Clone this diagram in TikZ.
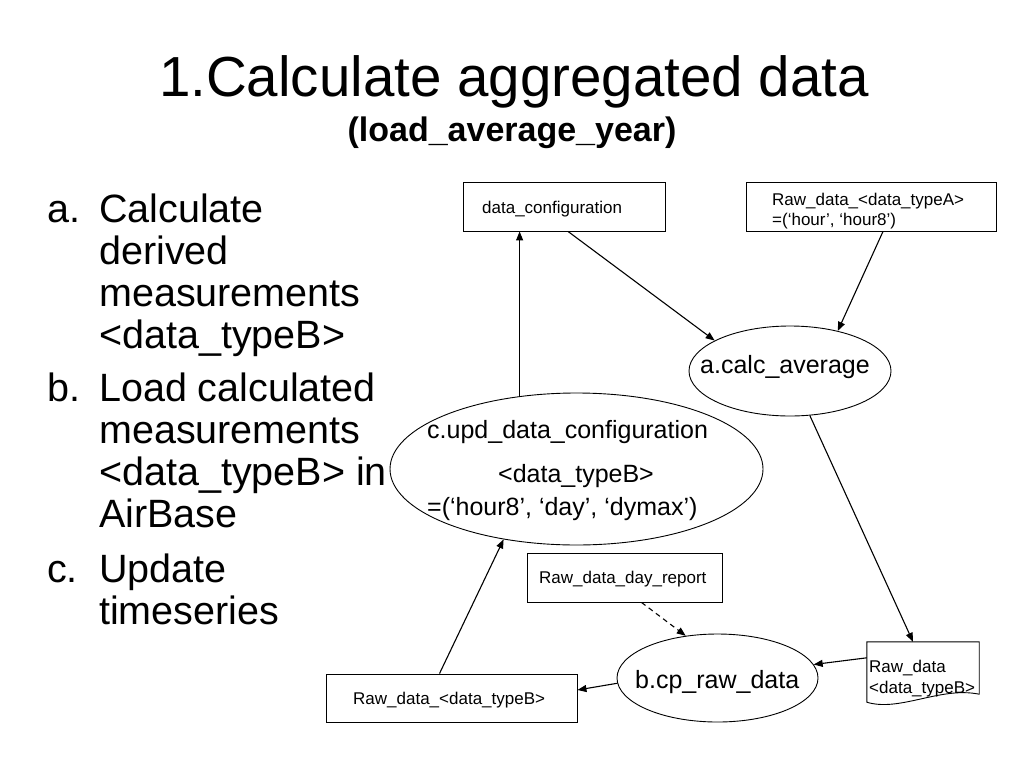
\documentclass[tikz,border=0pt]{standalone}
\usepackage{fontspec}
\setmainfont{Liberation Sans}
\usetikzlibrary{arrows.meta,shapes.geometric,calc}
\begin{document}
\begin{tikzpicture}[x=1pt,y=-1pt,
  box/.style={draw, line width=0.9pt, rectangle, inner sep=0pt},
  oval/.style={draw, line width=0.9pt, ellipse, inner sep=0pt},
  arr/.style={line width=1.1pt, -{Triangle[length=9pt,width=7pt]}},
  lt/.style={inner sep=0pt, anchor=base west, font=\fontsize{39.5}{42}\selectfont},
  big/.style={inner sep=0pt, anchor=base west, font=\fontsize{25}{28}\selectfont},
  small/.style={inner sep=0pt, anchor=base west, font=\fontsize{17}{20}\selectfont}]
\useasboundingbox (0,0) rectangle (1024,768);
\fill[white] (0,0) rectangle (1024,768);

% titles
\node[anchor=base, inner sep=0pt, font=\fontsize{56.5}{60}\selectfont] (title) at (514,96) {1.Calculate aggregated data};
\node[anchor=base, inner sep=0pt, font=\fontsize{34}{40}\selectfont\bfseries] (subtitle) at (512,141) {(load\_average\_year)};

% list
\node[lt] (ia) at (47,222) {a.};
\node[lt] (ia1) at (99,222) {Calculate};
\node[lt] (ia2) at (99,264.3) {derived};
\node[lt] (ia3) at (99,306.6) {measurements};
\node[lt] (ia4) at (99,348.9) {<data\_typeB>};
\node[lt] (ib) at (47,401) {b.};
\node[lt] (ib1) at (99,401) {Load calculated};
\node[lt] (ib2) at (99,443.3) {measurements};
\node[lt] (ib3) at (99,485.6) {<data\_typeB> in};
\node[lt] (ib4) at (99,527.9) {AirBase};
\node[lt] (ic) at (47,582) {c.};
\node[lt] (ic1) at (99,582) {Update};
\node[lt] (ic2) at (99,624.3) {timeseries};

% shapes
\node[box, minimum width=202pt, minimum height=49pt] (dconf) at (564,206.5) {};
\node[small] (dconft) at (482,213) {data\_configuration};

\node[box, minimum width=250pt, minimum height=49pt] (rawA) at (871,206.5) {};
\node[small] (rawAt1) at (772,205) {Raw\_data\_<data\_typeA>};
\node[small] (rawAt2) at (772,225) {=(‘hour’, ‘hour8’)};

\node[oval, minimum width=202pt, minimum height=90pt] (acalc) at (790,371) {};
\node[big] (acalct) at (700,373) {a.calc\_average};

\node[oval, minimum width=373pt, minimum height=152pt] (cupd) at (576.5,469) {};
\node[big] (cupdt1) at (427,438) {c.upd\_data\_configuration};
\node[anchor=base, inner sep=0pt, font=\fontsize{25}{28}\selectfont] (cupdt2) at (576,482) {<data\_typeB>};
\node[big] (cupdt3) at (427,515) {=(‘hour8’, ‘day’, ‘dymax’)};

\node[box, minimum width=195pt, minimum height=49pt] (day) at (624.5,577.5) {};
\node[small] (dayt) at (539,583) {Raw\_data\_day\_report};

\node[oval, minimum width=201pt, minimum height=88pt] (bcp) at (717.5,678) {};
\node[big] (bcpt) at (635,688) {b.cp\_raw\_data};

\node[box, minimum width=251pt, minimum height=48pt] (rawB) at (451.5,698) {};
\node[small] (rawBt) at (353,704) {Raw\_data\_<data\_typeB>};

\node[inner sep=0pt, minimum width=112pt, minimum height=52pt] (doc) at (923,668) {};
\draw[line width=0.9pt] (doc.north west) -- (doc.north east) -- (doc.south east)
  .. controls +(-39,-8) and +(33,10) .. ([yshift=-8pt]doc.south west) -- cycle;
\node[small] (doct1) at (869,672) {Raw\_data};
\node[small] (doct2) at (869,693) {<data\_typeB>};

% connectors
\draw[arr] (cupd.128) -- (cupd.128 |- dconf.south);
\draw[arr] ([xshift=4pt]dconf.south) -- (acalc.158);
\draw[arr] ([xshift=12pt]rawA.south) -- (acalc.40);
\draw[arr] (acalc.-66) -- ([xshift=-10pt]doc.north);
\draw[arr] ([yshift=-16pt]doc.north west) -- (bcp.8);
\draw[arr] (bcp.183) -- ([yshift=8pt]rawB.east);
\draw[arr] ([xshift=-12pt]rawB.north) -- (cupd.224);
\draw[arr, dash pattern=on 5pt off 4pt] ([xshift=17pt]day.south) -- (bcp.127);
\end{tikzpicture}
\end{document}
